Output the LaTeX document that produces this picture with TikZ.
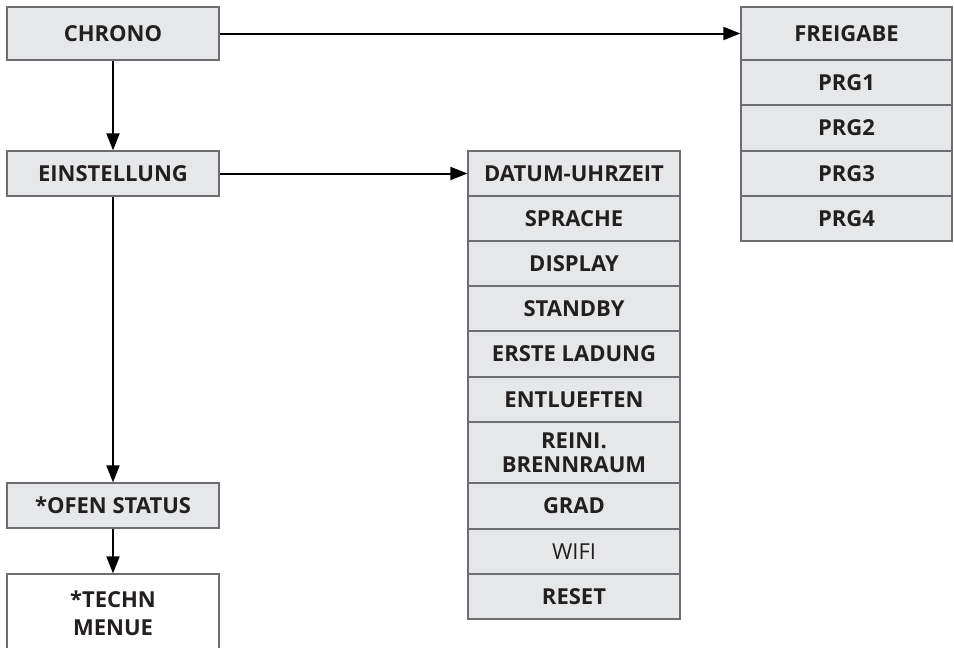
\documentclass[tikz,border=0pt]{standalone}
\usepackage{fontspec}
\setmainfont{Open Sans}
\usetikzlibrary{arrows.meta}

\definecolor{boxfill}{HTML}{E6E7E8}
\definecolor{boxline}{HTML}{6D6E71}
\definecolor{textcol}{HTML}{231F20}

\begin{document}
\begin{tikzpicture}[x=1pt, y=-1pt,
    menu/.style ={rectangle, draw=boxline, fill=boxfill, line width=1.2pt, text=textcol,
                  font=\fontsize{22}{24}\selectfont\bfseries, align=center,
                  inner sep=0pt, minimum width=212pt, minimum height=45pt},
    link/.style ={line width=2pt, -{Triangle[width=13pt, length=17pt]}}]
   \useasboundingbox (0,0) rectangle (954,648);

   % left column
   \node[menu, minimum height=53pt] (A) at (113,33.5) {CHRONO};
   \node[menu] (B) at (113,173.5) {EINSTELLUNG};
   \node[menu] (C) at (113,505.5) {*OFEN STATUS};
   \node[menu, fill=white, minimum height=78pt, font=\fontsize{22}{28}\selectfont\bfseries] (D) at (113,613) {*TECHN\\MENUE};

   % settings column
   \node[menu] (E)  at (574,173.5) {DATUM-UHRZEIT};
   \node[menu] (F)  at (574,218.5) {SPRACHE};
   \node[menu] (G)  at (574,263.5) {DISPLAY};
   \node[menu] (H)  at (574,308.5) {STANDBY};
   \node[menu, minimum height=46pt] (I)  at (574,354) {ERSTE LADUNG};
   \node[menu] (J)  at (574,399.5) {ENTLUEFTEN};
   \node[menu, minimum height=61pt] (K)  at (574,452.5) {REINI.\\BRENNRAUM};
   \node[menu, minimum height=46pt] (L)  at (574,506) {GRAD};
   \node[menu, font=\fontsize{22}{24}\selectfont] (M)  at (574,551.5) {WIFI};
   \node[menu] (N)  at (574,596.5) {RESET};

   % chrono column
   \node[menu, minimum width=211pt, minimum height=53pt] (O) at (846.5,33.5) {FREIGABE};
   \node[menu, minimum width=211pt] (P) at (846.5,82.5) {PRG1};
   \node[menu, minimum width=211pt, minimum height=46pt] (Q) at (846.5,128) {PRG2};
   \node[menu, minimum width=211pt] (R) at (846.5,173.5) {PRG3};
   \node[menu, minimum width=211pt] (S) at (846.5,218.5) {PRG4};

   \draw[link] (A) to (B);
   \draw[link] (B) to (C);
   \draw[link] (C) to (D);
   \draw[link] (A) to (O);
   \draw[link] (B) to (E);
\end{tikzpicture}
\end{document}
